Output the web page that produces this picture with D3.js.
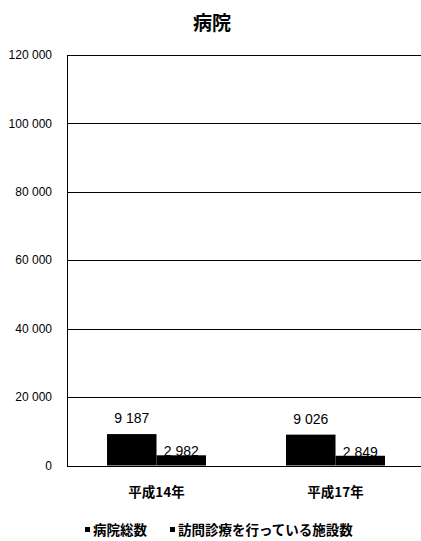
<!DOCTYPE html>
<html>
<head>
<meta charset="utf-8">
<script src="https://cdn.jsdelivr.net/npm/d3@7"></script>
<style>
  body { margin: 0; background: #fff; }
  text { fill: #000; }
</style>
</head>
<body>
<div id="chart"></div>
<script>
// 病院 - grouped bar chart

const categories = ["平成14年", "平成17年"];
const seriesNames = ["病院総数", "訪問診療を行っている施設数"];
const totalHospitals = [9187, 9026];   // 病院総数
const homeVisitCare = [2982, 2849];    // 訪問診療を行っている施設数
const yTicks = [0, 20000, 40000, 60000, 80000, 100000, 120000];

const width = 421,
    height = 541,
    margin = ({ top: 55, right: -4, bottom: 75, left: 67 });

const numFont = "'Liberation Sans Narrow', 'Liberation Sans', Arial, sans-serif";
const jpFont = "'Noto Sans CJK JP', sans-serif";

const svg = d3.select("#chart")
    .append("svg")
    .attr("width", width)
    .attr("height", height);

const data = categories.map((c, i) => ({
  cat: c,
  values: [totalHospitals[i], homeVisitCare[i]]
}));

const x = d3.scaleBand()
    .domain(categories)
    .range([margin.left, width - margin.right])
    .paddingInner(0.447)
    .paddingOuter(0.2235);

const xs = d3.scaleBand()
    .domain(d3.range(seriesNames.length))
    .range([0, x.bandwidth()]);

const y = d3.scaleLinear()
    .domain([0, 120000])
    .range([height - margin.bottom - 0.5, margin.top]);

// title
svg.append("text")
    .attr("x", 212)
    .attr("y", 30)
    .attr("text-anchor", "middle")
    .style("font-family", jpFont)
    .style("font-weight", "bold")
    .style("font-size", "19px")
    .text("病院");

// gridlines
svg.append("g")
  .selectAll("line")
  .data(yTicks)
  .join("line")
    .attr("x1", margin.left)
    .attr("x2", width)
    .attr("y1", d => Math.round(y(d)) + 0.5)
    .attr("y2", d => Math.round(y(d)) + 0.5)
    .attr("stroke", "#000")
    .attr("stroke-width", 1);

// y axis line
svg.append("line")
    .attr("x1", margin.left + 0.5)
    .attr("x2", margin.left + 0.5)
    .attr("y1", Math.round(y(120000)))
    .attr("y2", Math.round(y(0)) + 1)
    .attr("stroke", "#000");

// y tick labels
const fmt = d => d3.format(",")(d).replace(/,/g, " ");
svg.append("g")
  .selectAll("text")
  .data(yTicks)
  .join("text")
    .attr("x", 52)
    .attr("y", d => y(d))
    .attr("dy", "0.35em")
    .attr("text-anchor", "end")
    .style("font-family", numFont)
    .style("font-size", "12px")
    .text(fmt);

// bars
const groups = svg.append("g")
  .selectAll("g")
  .data(data)
  .join("g")
    .attr("transform", d => `translate(${x(d.cat)},0)`);

groups.selectAll("rect")
  .data(d => d.values)
  .join("rect")
    .attr("x", (d, i) => xs(i))
    .attr("width", xs.bandwidth())
    .attr("y", d => y(d))
    .attr("height", d => y(0) - y(d))
    .attr("fill", "#000");

// value labels
groups.selectAll("text")
  .data(d => d.values)
  .join("text")
    .attr("x", (d, i) => xs(i) + xs.bandwidth() / 2)
    .attr("y", (d, i) => i === 0 ? y(d) - 11 : y(d) + 1)
    .attr("text-anchor", "middle")
    .style("font-family", numFont)
    .style("font-size", "14px")
    .text(fmt);

// category labels
svg.append("g")
  .selectAll("text")
  .data(categories)
  .join("text")
    .attr("x", d => x(d) + x.bandwidth() / 2)
    .attr("y", 497)
    .attr("text-anchor", "middle")
    .style("font-family", jpFont)
    .style("font-weight", "bold")
    .style("font-size", "13.5px")
    .text(d => d);

// legend
const legendX = [85, 170];
const legend = svg.append("g")
  .selectAll("g")
  .data(seriesNames)
  .join("g")
    .attr("transform", (d, i) => `translate(${legendX[i]},530)`);

legend.append("rect")
    .attr("x", 0)
    .attr("y", -3)
    .attr("width", 5)
    .attr("height", 5)
    .attr("fill", "#000");

legend.append("text")
    .attr("x", 8)
    .attr("y", 5)
    .style("font-family", jpFont)
    .style("font-weight", "bold")
    .style("font-size", "13.5px")
    .text(d => d);
</script>
</body>
</html>
